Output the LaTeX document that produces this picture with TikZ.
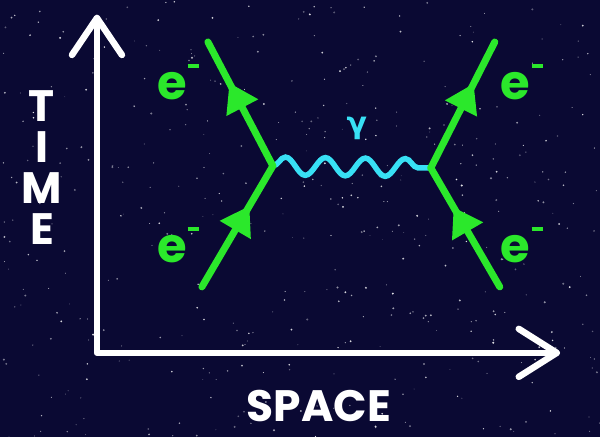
\documentclass[tikz,border=0pt]{standalone}
\usepackage{fontspec}
\setmainfont{Poppins}
\newfontfamily\greekfont{DejaVu Sans}
\usepackage{tikz}
\usetikzlibrary{arrows.meta,calc,decorations.pathmorphing,decorations.markings}
\definecolor{night}{HTML}{0A0933}
\definecolor{electron}{HTML}{2BE82B}
\definecolor{photon}{HTML}{38E0F5}
\newcommand{\electron}{e\hspace{1pt}\rule[32pt]{11pt}{4pt}}

\begin{document}
\begin{tikzpicture}[x=1pt,y=-1pt,
  axis/.style={draw=white,line width=6.5pt,line cap=round,line join=round},
  fermion/.style={draw=electron,line width=7pt,line cap=round,
    postaction={decorate,decoration={markings,
      mark=at position 0.67 with {\arrow{Triangle[length=28pt,width=34pt]}}}}},
  boson/.style={draw=photon,line width=5.5pt,line cap=round,
    decorate,decoration={snake,segment length=40pt,amplitude=9pt,pre length=0pt,post length=0pt}},
  plabel/.style={text=electron,font=\bfseries\fontsize{48}{48}\selectfont,inner sep=0pt},
  axlabel/.style={text=white,font=\bfseries\fontsize{44}{41}\selectfont,align=center,inner sep=0pt},
]
  % sky
  \fill[night] (0,0) rectangle (600,437);
  \pgfmathsetseed{42}
  \foreach \i in {1,...,450}{
    \pgfmathsetmacro{\sx}{rnd*600}
    \pgfmathsetmacro{\sy}{rnd*437}
    \pgfmathsetmacro{\sr}{0.4+rnd*0.7}
    \pgfmathsetmacro{\so}{0.3+rnd*0.6}
    \fill[white,opacity=\so] (\sx,\sy) circle (\sr);
  }

  % axes
  \coordinate (origin) at (97,353);
  \coordinate (tmax) at (97,18);
  \coordinate (smax) at (557,353);
  \draw[axis] (tmax) -- (origin) -- (smax);
  \draw[axis] ($(tmax)+(-25,37)$) -- (tmax) -- ($(tmax)+(25,37)$);
  \draw[axis] ($(smax)+(-38,-24)$) -- (smax) -- ($(smax)+(-38,24)$);
  \node[axlabel] (time) at (42,168) {T\\I\\M\\E};
  \node[axlabel] (space) at (319,406) {SPACE};

  % vertices and external legs
  \coordinate (vl) at (273,166);
  \coordinate (vr) at (431,168);
  \coordinate (inl) at (202,287);
  \coordinate (outl) at (208,42);
  \coordinate (inr) at (500,287);
  \coordinate (outr) at (495,42);

  \draw[boson] (vl) -- (vr);
  \draw[fermion] (inl) -- (vl);
  \draw[fermion] (vl) -- (outl);
  \draw[fermion] (inr) -- (vr);
  \draw[fermion] (vr) -- (outr);

  \node[plabel,anchor=base west] (eoutl) at (157,100) {\electron};
  \node[plabel,anchor=base west] (einl) at (157,263) {\electron};
  \node[plabel,anchor=base west] (eoutr) at (501,100) {\electron};
  \node[plabel,anchor=base west] (einr) at (501,263) {\electron};
  \node[text=photon,font=\greekfont\bfseries\fontsize{30}{30}\selectfont,inner sep=0pt] (gamma) at (357,128) {γ};
\end{tikzpicture}
\end{document}
